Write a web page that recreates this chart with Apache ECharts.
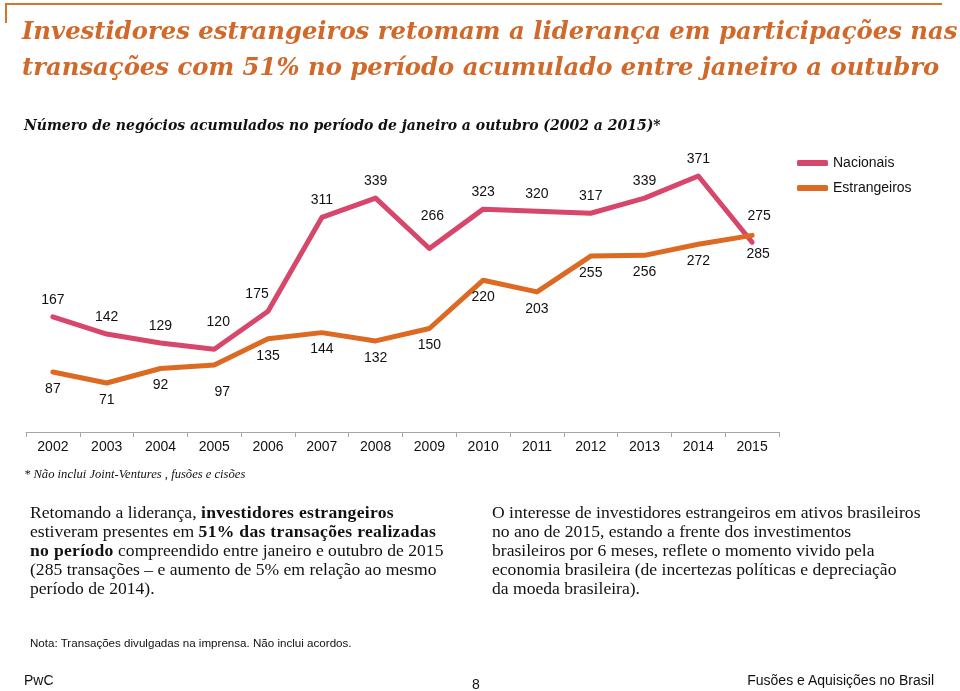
<!DOCTYPE html>
<html>
<head>
<meta charset="utf-8">
<script src="https://cdn.jsdelivr.net/npm/echarts@6/dist/echarts.min.js"></script>
<style>
  html, body { margin: 0; padding: 0; background: #fff; }
  #page { position: relative; width: 960px; height: 691px; overflow: hidden; background: #fff; }
  #chart { position: absolute; left: 0; top: 0; width: 960px; height: 691px; }
  .t { position: absolute; white-space: nowrap; margin: 0; }
  #topline { position: absolute; left: 5px; top: 3px; width: 937px; height: 2px; background: #D5742F; }
  #leftline { position: absolute; left: 5px; top: 3px; width: 2px; height: 20px; background: #D5742F; }
  #title { left: 22px; top: 13px; font-family: "DejaVu Serif", serif; font-weight: bold; font-style: italic; font-size: 24.3px; line-height: 36px; color: #D0692A; }
  #subtitle { left: 24px; top: 117px; font-family: "DejaVu Serif", serif; font-weight: bold; font-style: italic; font-size: 14px; color: #111; }
  #foot { left: 24px; top: 467px; font-family: "Liberation Serif", serif; font-style: italic; font-size: 12.6px; color: #111; }
  .para { top: 503px; font-family: "Liberation Serif", serif; font-size: 17.6px; line-height: 19px; color: #111; }
  .para b { letter-spacing: 0.3px; }
  #pl { left: 30px; }
  #pr { left: 492px; }
  #nota { left: 30px; top: 636px; font-family: "Liberation Sans", Arial, sans-serif; font-size: 11.6px; color: #111; }
  .footer { top: 672px; font-family: "Liberation Sans", Arial, sans-serif; font-size: 14px; color: #111; }
  #pwc { left: 24px; }
  #pg { left: 472px; top: 676px; }
  #brand { right: 26px; }
</style>
</head>
<body>
<div id="page">
  <div id="chart"></div>
  <div id="topline"></div>
  <div id="leftline"></div>
  <div class="t" id="title">Investidores estrangeiros retomam a liderança em participações nas<br>transações com 51% no período acumulado entre janeiro a outubro</div>
  <div class="t" id="subtitle">Número de negócios acumulados no período de janeiro a outubro (2002 a 2015)*</div>
  <div class="t" id="foot">* Não inclui Joint-Ventures , fusões e cisões</div>
  <div class="t para" id="pl">Retomando a liderança, <b>investidores estrangeiros</b><br>estiveram presentes em <b>51% das transações realizadas</b><br><b>no período</b> compreendido entre janeiro e outubro de 2015<br>(285 transações – e aumento de 5% em relação ao mesmo<br>período de 2014).</div>
  <div class="t para" id="pr">O interesse de investidores estrangeiros em ativos brasileiros<br>no ano de 2015, estando a frente dos investimentos<br>brasileiros por 6 meses, reflete o momento vivido pela<br>economia brasileira (de incertezas políticas e depreciação<br>da moeda brasileira).</div>
  <div class="t" id="nota">Nota: Transações divulgadas na imprensa. Não inclui acordos.</div>
  <div class="t footer" id="pwc">PwC</div>
  <div class="t footer" id="pg">8</div>
  <div class="t footer" id="brand">Fusões e Aquisições no Brasil</div>
</div>
<script>
// ---- data ----
const years = ['2002','2003','2004','2005','2006','2007','2008','2009','2010','2011','2012','2013','2014','2015'];
const nacionais = [167, 142, 129, 120, 175, 311, 339, 266, 323, 320, 317, 339, 371, 275];
const estrangeiros = [87, 71, 92, 97, 135, 144, 132, 150, 220, 203, 255, 256, 272, 285];
const seriesNames = ['Nacionais', 'Estrangeiros'];

// ---- label nudges (styling only) ----
const nacNudge = { 3: [4, -10], 4: [-11, 0], 7: [3, -15], 13: [7, -9] };
const estNudge = { 3: [8, 10], 13: [6, 2] };

function withLabels(values, nudges) {
  return values.map((v, i) => nudges[i] ? { value: v, label: { offset: nudges[i] } } : v);
}

const font = '"Liberation Sans", Arial, sans-serif';
const chart = echarts.init(document.getElementById('chart'), null, { renderer: 'canvas' });
chart.setOption({
  animation: false,
  color: ['#D6476B', '#DC6A22'],
  grid: { left: 26, right: 181, top: 156, bottom: 259, containLabel: false },
  legend: {
    orient: 'vertical', left: 792, top: 150,
    icon: 'roundRect', itemWidth: 31, itemHeight: 6, itemGap: 9,
    textStyle: { fontFamily: font, fontSize: 14, color: '#111', lineHeight: 16 },
    data: seriesNames
  },
  xAxis: {
    type: 'category', data: years, boundaryGap: true,
    axisLine: { lineStyle: { color: '#A6A6A6', width: 1 } },
    axisTick: { show: true, length: 5, lineStyle: { color: '#A6A6A6' } },
    axisLabel: { margin: 8, fontFamily: font, fontSize: 14, color: '#111' }
  },
  yAxis: { type: 'value', min: 0, max: 400, show: false, splitLine: { show: false } },
  series: [
    {
      name: seriesNames[0], type: 'line', data: withLabels(nacionais, nacNudge),
      symbol: 'circle', symbolSize: 0, showSymbol: true,
      lineStyle: { width: 5, cap: 'round', join: 'round' },
      label: { show: true, position: 'top', distance: 10, fontFamily: font, fontSize: 14, color: '#111' },
      z: 3
    },
    {
      name: seriesNames[1], type: 'line', data: withLabels(estrangeiros, estNudge),
      symbol: 'circle', symbolSize: 0, showSymbol: true,
      lineStyle: { width: 5, cap: 'round', join: 'round' },
      label: { show: true, position: 'bottom', distance: 10, fontFamily: font, fontSize: 14, color: '#111' },
      z: 4
    }
  ]
});
</script>
</body>
</html>
